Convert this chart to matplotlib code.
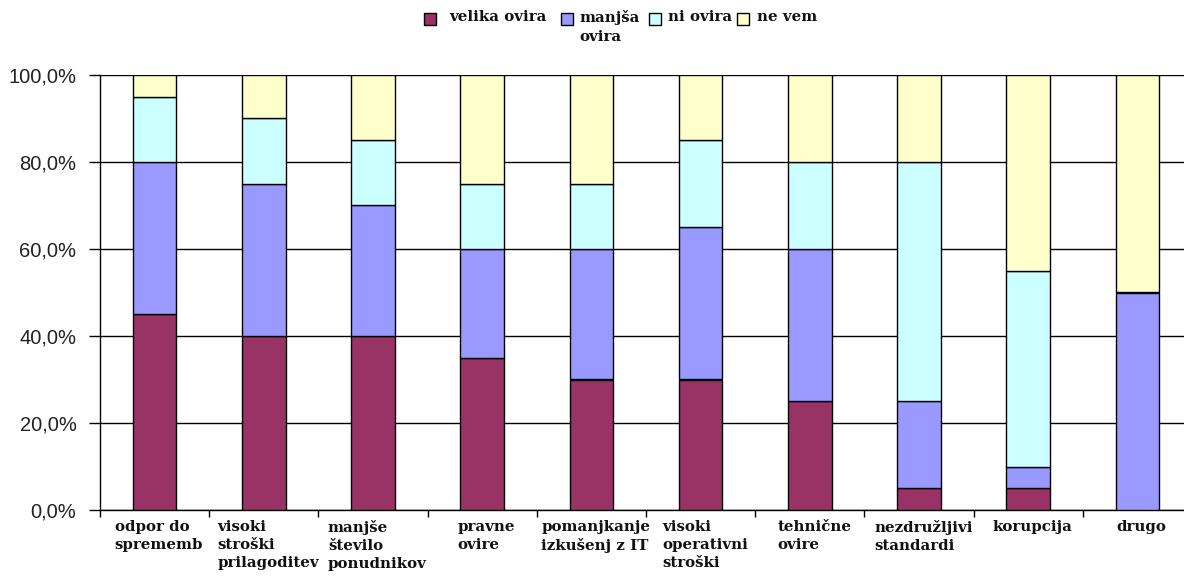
import numpy as np
import matplotlib
matplotlib.use("Agg")
import matplotlib.pyplot as plt
from matplotlib.patches import Rectangle
from matplotlib.ticker import FuncFormatter

# data (share of answers, %)
categories = ["odpor do\nsprememb", "visoki\nstroški\nprilagoditev", "manjše\nštevilo\nponudnikov",
              "pravne\novire", "pomanjkanje\nizkušenj z IT", "visoki\noperativni\nstroški",
              "tehnične\novire", "nezdružljivi\nstandardi", "korupcija", "drugo"]
series_names = ["velika ovira", "manjša\novira", "ni ovira", "ne vem"]
velika = [45, 40, 40, 35, 30, 30, 25, 5, 5, 0]
manjsa = [35, 35, 30, 25, 30, 35, 35, 20, 5, 50]
ni_ovira = [15, 15, 15, 15, 15, 20, 20, 55, 45, 0]
ne_vem = [5, 10, 15, 25, 25, 15, 20, 20, 45, 50]
yticks = [0, 20, 40, 60, 80, 100]

colors = ["#993366", "#9999FF", "#CCFFFF", "#FFFFCC"]
W, H = 1184, 576
lab_font = dict(family="DejaVu Serif", weight="bold", size=10.8, color="#111111")

fig = plt.figure(figsize=(W / 100, H / 100), dpi=100)
ax = fig.add_axes([100 / W, 1 - 510 / H, 1092 / W, 435 / H])

x = np.arange(len(categories)) + 0.5
bottom = np.zeros(len(categories))
for vals, col in zip([velika, manjsa, ni_ovira, ne_vem], colors):
    vals = np.array(vals, dtype=float)
    ax.bar(x, vals, width=0.40, bottom=bottom, color=col, edgecolor="black",
           linewidth=1.0, zorder=3)
    bottom += vals

ax.set_xlim(0, len(categories))
ax.set_ylim(0, 100)
ax.set_yticks(yticks)
ax.yaxis.set_major_formatter(FuncFormatter(lambda v, p: f"{v:.1f}%".replace(".", ",")))
ax.grid(axis="y", color="black", linewidth=1.0, zorder=0)
ax.set_xticks(np.arange(len(categories) + 1))
ax.set_xticklabels([])
ax.tick_params(axis="x", length=5, width=1, direction="out")
ax.tick_params(axis="y", length=8, width=1, direction="out", pad=9,
               labelsize=14.5, labelcolor="#222222")
for lab in ax.get_yticklabels():
    lab.set_family("Liberation Sans")
for s in ["top", "right"]:
    ax.spines[s].set_visible(False)
for s in ["left", "bottom"]:
    ax.spines[s].set_linewidth(1.0)

# category labels
for xi, cat in zip(x, categories):
    ax.text(xi + 0.04, -0.022, cat, transform=ax.get_xaxis_transform(), ha="center", va="top",
            multialignment="left", linespacing=1.4, **lab_font)

# legend drawn by hand so the wrapped label sits like the original
leg_sq = [424, 561, 649, 737]
leg_tx = [449, 579, 668, 757]
for sx, tx, name, col in zip(leg_sq, leg_tx, series_names, colors):
    fig.patches.append(Rectangle((sx / W, 1 - 25 / H), 12 / W, 12 / H, transform=fig.transFigure,
                                 facecolor=col, edgecolor="black", linewidth=1.0))
    fig.text(tx / W, 1 - 10 / H, name, ha="left", va="top", linespacing=1.45, **lab_font)

fig.savefig("out.png", dpi=100)
